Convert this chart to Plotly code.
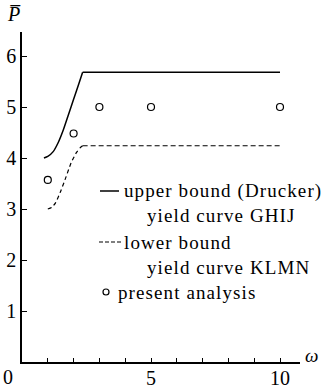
import plotly.graph_objects as go

# ---- data ----
upper_x = [0.85, 1.0, 1.2, 1.4, 1.6, 1.8, 2.0, 2.2, 2.35, 10.0]
upper_y = [4.0, 4.03, 4.12, 4.3, 4.55, 4.85, 5.15, 5.45, 5.68, 5.68]
lower_x = [1.0, 1.15, 1.3, 1.5, 1.7, 1.9, 2.1, 2.25, 2.35, 10.0]
lower_y = [3.0, 3.03, 3.12, 3.35, 3.62, 3.9, 4.1, 4.2, 4.24, 4.24]
pres_x = [1, 2, 3, 5, 10]
pres_y = [3.57, 4.48, 5.0, 5.0, 5.0]
x_ticks = list(range(1, 11))
x_ticklabels = ["", "", "", "", "5", "", "", "", "", "10"]
y_ticks = [1, 2, 3, 4, 5, 6]
y_ticklabels = ["1", "2", "3", "4", "5", "6"]
origin_label = "0"
legend_texts = ["upper bound (Drucker)", "yield curve GHIJ", "lower bound",
                "yield curve KLMN", "present analysis"]

W, H = 323, 388
L, R, T, B = 22, 23, 32, 26
PW, PH = W - L - R, H - T - B
XMAX = PW / 25.8
YMAX = PH / 51.0

def px(x):
    return (x - L) / PW

def py(y):
    return (H - B - y) / PH

FONT = "Liberation Serif"

fig = go.Figure()
fig.add_trace(go.Scatter(x=upper_x[:9], y=upper_y[:9], mode="lines",
                         line=dict(color="black", width=1.5, shape="spline", smoothing=0.6),
                         showlegend=False))
fig.add_trace(go.Scatter(x=upper_x[8:], y=upper_y[8:], mode="lines",
                         line=dict(color="black", width=1.5), showlegend=False))
fig.add_trace(go.Scatter(x=lower_x[:9], y=lower_y[:9], mode="lines",
                         line=dict(color="black", width=1.2, dash="4px,3px", shape="spline", smoothing=0.6),
                         showlegend=False))
fig.add_trace(go.Scatter(x=lower_x[8:], y=lower_y[8:], mode="lines",
                         line=dict(color="black", width=1.2, dash="5px,3px"), showlegend=False))
fig.add_trace(go.Scatter(x=pres_x, y=pres_y, mode="markers",
                         marker=dict(symbol="circle-open", size=7, color="black", line=dict(width=1.2)),
                         showlegend=False))

# legend samples
fig.add_shape(type="line", xref="paper", yref="paper", x0=px(100), x1=px(119), y0=py(191), y1=py(191),
              line=dict(color="black", width=1.5))
fig.add_shape(type="line", xref="paper", yref="paper", x0=px(99), x1=px(121), y0=py(242), y1=py(242),
              line=dict(color="black", width=1.2, dash="4px,2px"))
fig.add_shape(type="circle", xref="paper", yref="paper", x0=px(103), x1=px(109), y0=py(289), y1=py(295),
              line=dict(color="black", width=1.2))

rows = [(123, 191), (146, 215), (123, 242), (146, 267), (117, 292)]
for t, (xx, yy) in zip(legend_texts, rows):
    fig.add_annotation(text='<span style="letter-spacing:1.1px">' + t + '</span>',
                       xref="paper", yref="paper", x=px(xx), y=py(yy), xanchor="left",
                       yanchor="middle", showarrow=False, borderpad=0,
                       font=dict(family=FONT, size=19, color="black"))

fig.add_annotation(text=origin_label, xref="paper", yref="paper", x=px(8), y=py(377), xanchor="center",
                   yanchor="middle", showarrow=False, font=dict(family=FONT, size=20, color="black"))
fig.add_annotation(text="<i>P\u0305</i>", xref="paper", yref="paper", x=px(14), y=py(14), xanchor="center",
                   yanchor="middle", showarrow=False, font=dict(family=FONT, size=20, color="black"))
fig.add_annotation(text="<i>ω</i>", xref="paper", yref="paper", x=px(311), y=py(355), xanchor="center",
                   yanchor="middle", showarrow=False, font=dict(family=FONT, size=19, color="black"))

fig.update_layout(
    width=W, height=H, margin=dict(l=L, r=R, t=T, b=B, autoexpand=False),
    paper_bgcolor="white", plot_bgcolor="white",
    xaxis=dict(range=[0, XMAX], showgrid=False, zeroline=False, showline=True, linecolor="black",
               linewidth=1.5, ticks="inside", ticklen=4, tickwidth=1, tickcolor="black",
               tickmode="array", tickvals=x_ticks, ticktext=x_ticklabels, automargin=False,
               ticklabelstandoff=-3,
               tickfont=dict(family=FONT, size=20, color="black")),
    yaxis=dict(range=[0, YMAX], showgrid=False, zeroline=False, showline=True, linecolor="black",
               linewidth=1.5, ticks="inside", ticklen=5, tickwidth=1, tickcolor="black",
               tickmode="array", tickvals=y_ticks, ticktext=y_ticklabels, automargin=False,
               tickfont=dict(family=FONT, size=20, color="black")),
)
fig.write_html("out.html", config={"displayModeBar": False},
               post_script="document.body.style.margin='0';")
